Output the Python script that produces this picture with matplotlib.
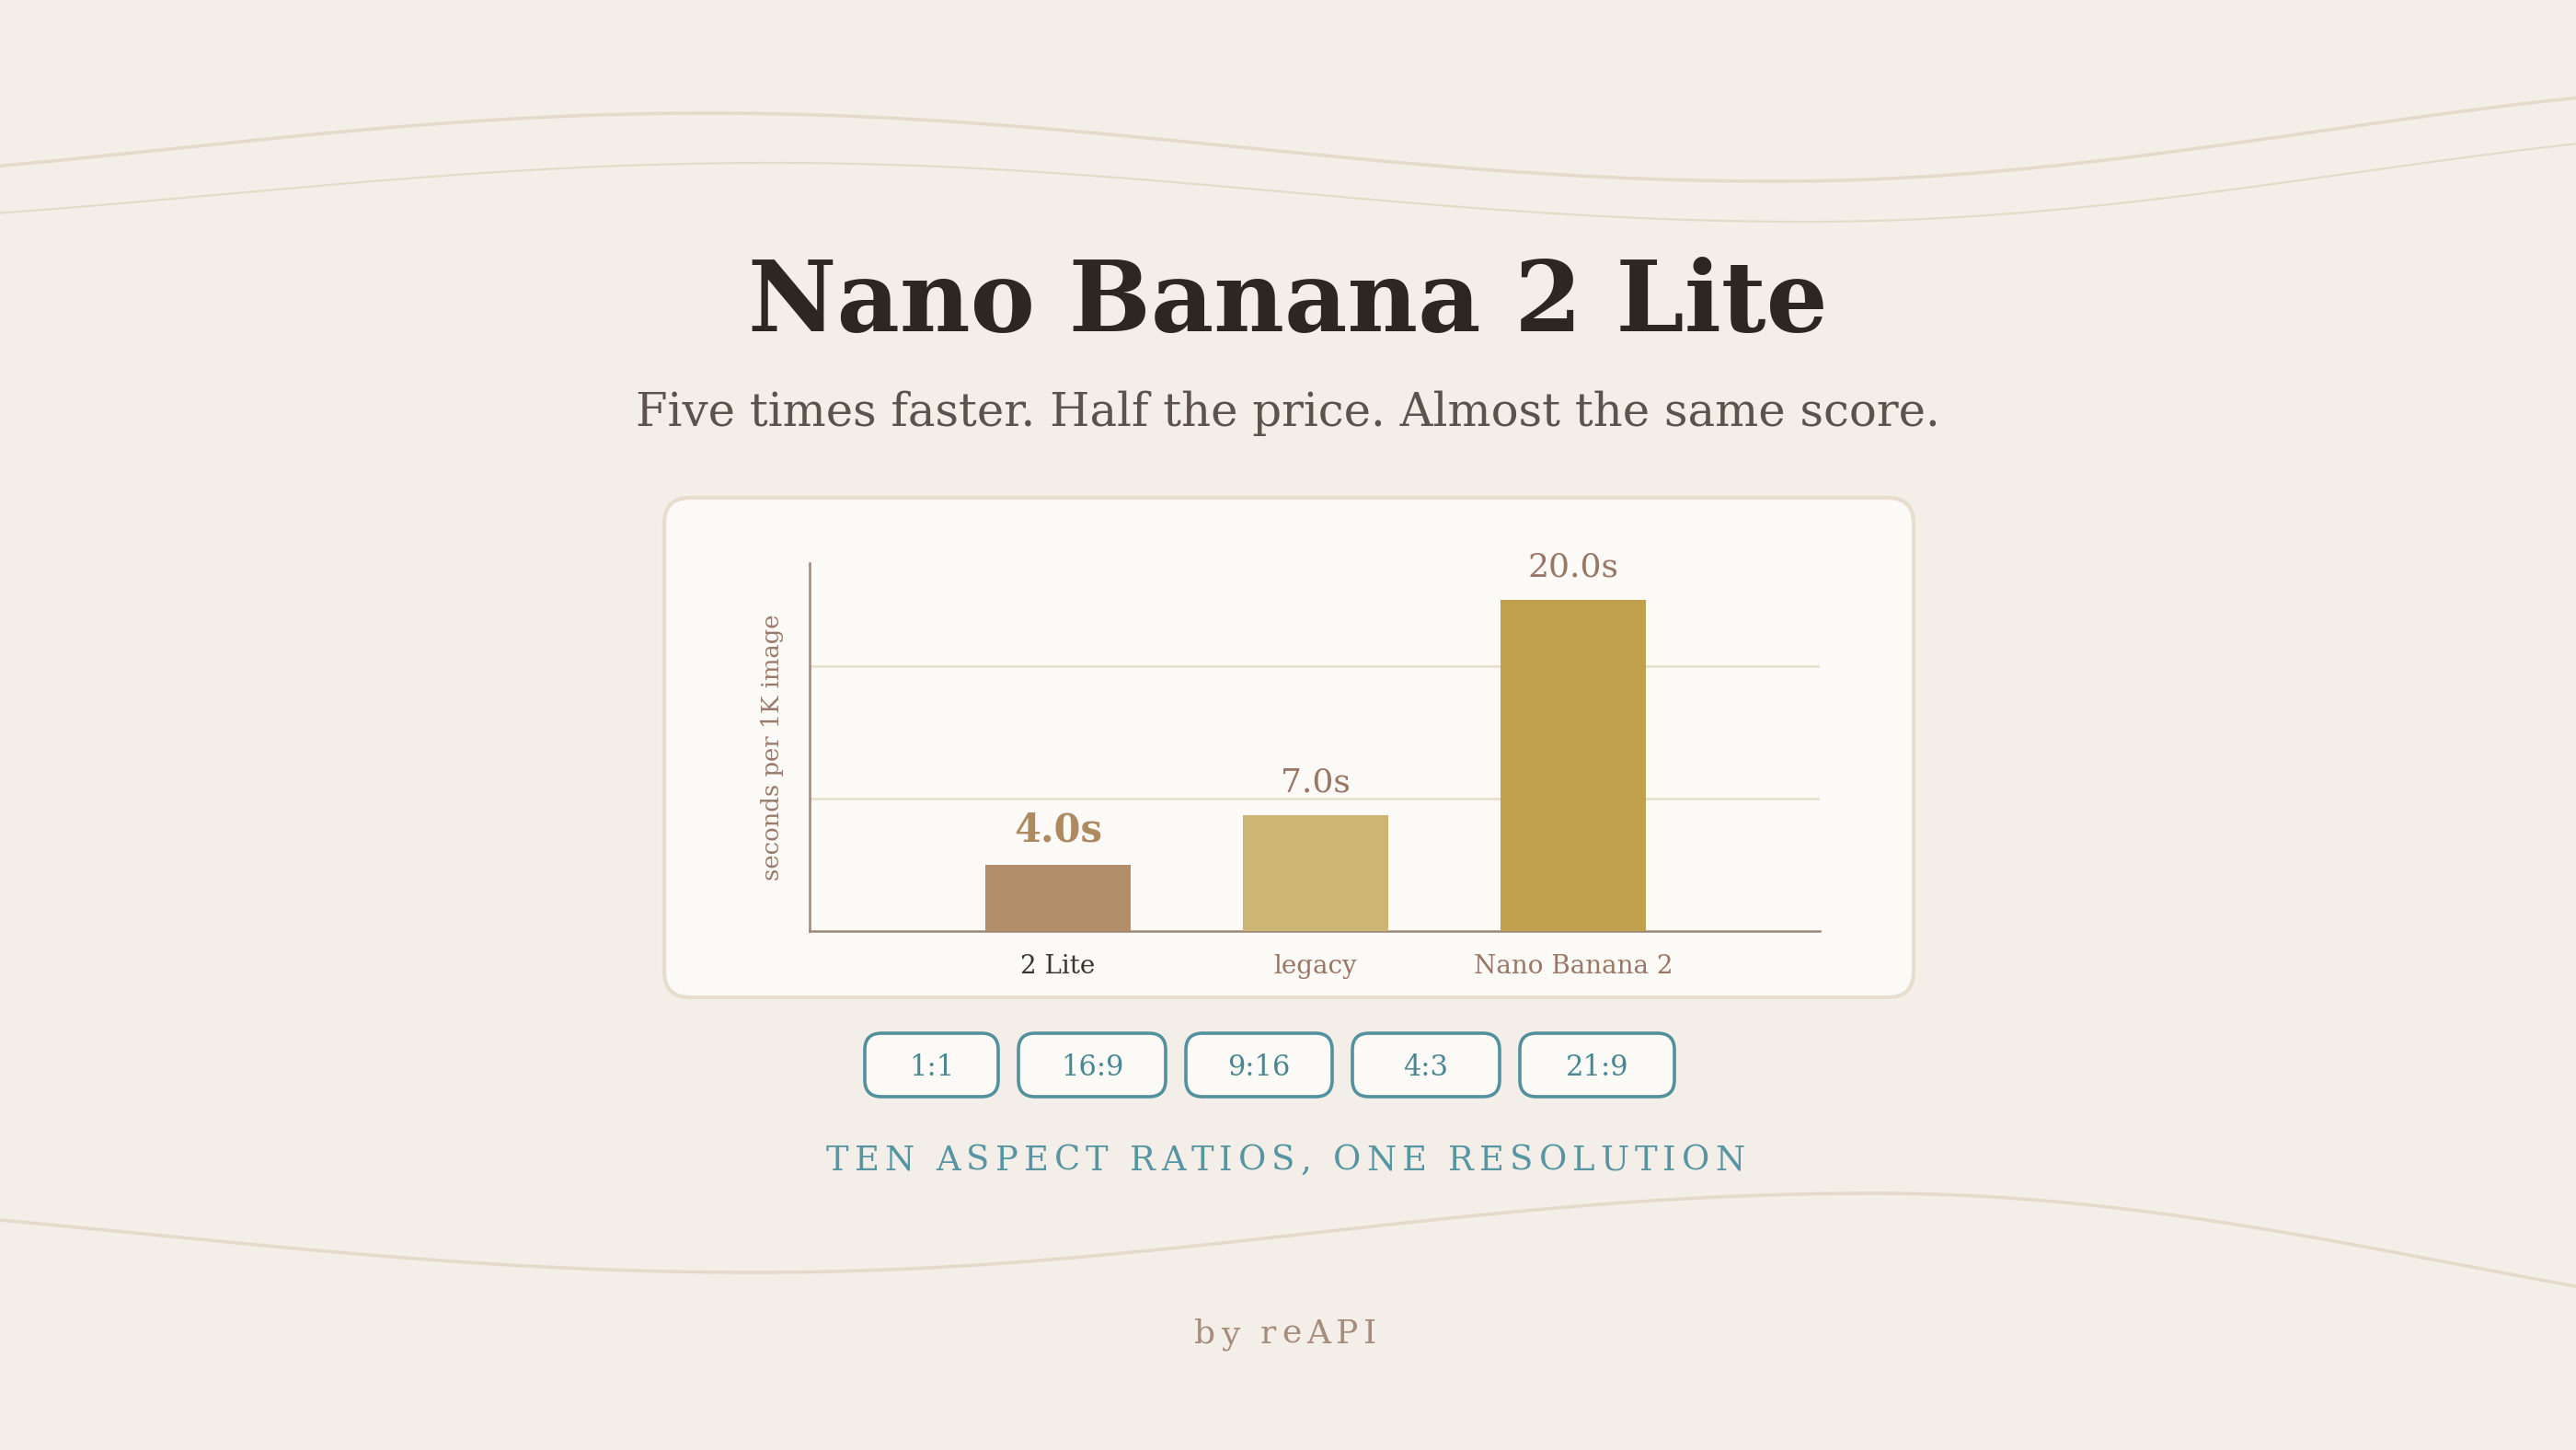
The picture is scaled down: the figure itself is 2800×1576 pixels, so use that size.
import matplotlib.pyplot as plt
import numpy as np
from matplotlib.patches import FancyBboxPatch

# Datos del gráfico
models = ['2 Lite', 'legacy', 'Nano Banana 2']
seconds = [4.0, 7.0, 20.0]
bar_colors = ['#b38e6a', '#cdb574', '#c0a04c']
tick_colors = ['#3b342f', '#9b7565', '#9b7565']
grid_values = [8, 16]
ratios = ['1:1', '16:9', '9:16', '4:3', '21:9']

title = 'Nano Banana 2 Lite'
subtitle = 'Five times faster. Half the price. Almost the same score.'
caption = 'TEN ASPECT RATIOS, ONE RESOLUTION'
footer = 'by reAPI'

W, H = 2800, 1576
BG = '#f3efe8'
TEAL = '#53919e'
SERIF = 'DejaVu Serif'

plt.rcParams['font.family'] = SERIF
fig = plt.figure(figsize=(W / 200, H / 200), dpi=200, facecolor=BG)

# Capa de fondo en coordenadas de píxel
bg = fig.add_axes([0, 0, 1, 1], zorder=0)
bg.set_xlim(0, W)
bg.set_ylim(H, 0)
bg.axis('off')
bg.set_facecolor(BG)


def wave(extrema, lw):
    # curva suave entre extremos (decoración)
    xs, ys = [], []
    for (x0, y0), (x1, y1) in zip(extrema[:-1], extrema[1:]):
        t = np.linspace(0, 1, 80)
        xs.append(x0 + (x1 - x0) * t)
        ys.append(y0 + (y1 - y0) * (1 - np.cos(np.pi * t)) / 2)
    bg.plot(np.concatenate(xs), np.concatenate(ys), color='#e4dac9', lw=lw,
            solid_capstyle='round', zorder=1)


wave([(-390, 200), (768, 123), (1929, 197), (3100, 90)], 1.3)
wave([(-350, 245), (839, 177), (1964, 241), (3150, 135)], 0.8)
wave([(-500, 1300), (821, 1383), (2036, 1297), (3300, 1450)], 1.3)

# Tarjeta del gráfico
card = FancyBboxPatch((722, 541), 1358, 543, boxstyle='round,pad=0,rounding_size=28',
                      fc='#fbfaf7', ec='#e6ddcf', lw=1.5, zorder=2)
bg.add_patch(card)

# Títulos
bg.text(1400, 360, title, ha='center', va='baseline', fontsize=38,
        fontweight='bold', color='#2c2723', zorder=3)
bg.text(1400, 463, subtitle, ha='center', va='baseline', fontsize=17.9,
        color='#5b534c', zorder=3)

renderer = fig.canvas.get_renderer()


def text_width(s, **kw):
    t = bg.text(0, 0, s, **kw)
    w = t.get_window_extent(renderer).width
    t.remove()
    return w


def spaced(xc, y, s, total_w, **kw):
    base = text_width('||', **kw)
    ws = [text_width('|' + c + '|', **kw) - base for c in s]
    track = (total_w - sum(ws)) / (len(s) - 1)
    x = xc - total_w / 2
    for c, cw in zip(s, ws):
        bg.text(x, y, c, ha='left', va='baseline', zorder=3, **kw)
        x += cw + track


# Botones de relación de aspecto
btn_w = [145, 160, 159, 160, 168]
gap = 22
row_w = sum(btn_w) + gap * (len(btn_w) - 1)
x = 1380 - row_w / 2
for lab, bw in zip(ratios, btn_w):
    bg.add_patch(FancyBboxPatch((x, 1123), bw, 69, boxstyle='round,pad=0,rounding_size=18',
                                fc='#fbfaf7', ec=TEAL, lw=1.3, zorder=3))
    bg.text(x + bw / 2, 1169, lab, ha='center', va='baseline', fontsize=11,
            color='#4a8793', zorder=4)
    x += bw + gap

spaced(1397, 1272, caption, 998, fontsize=13.3, color='#5895a2')
spaced(1397, 1460, footer, 198, fontsize=13, color='#a58c7c')

# Gráfico de barras
ax = fig.add_axes([880 / W, 1 - 1012 / H, 1098 / W, 400 / H], zorder=5)
ax.set_facecolor('none')
pos = np.arange(len(models))
ax.bar(pos, seconds, width=0.565, color=bar_colors, zorder=3)
for v in grid_values:
    ax.axhline(v, color='#e7ddcf', lw=0.9, zorder=1)
ax.set_xlim(-0.964, 2.957)
ax.set_ylim(0, 22.2)
ax.set_yticks([])
ax.set_xticks(pos)
ax.set_xticklabels(models, fontsize=10)
for lbl, c in zip(ax.get_xticklabels(), tick_colors):
    lbl.set_color(c)
ax.tick_params(axis='x', length=0, pad=9)
for s in ['top', 'right']:
    ax.spines[s].set_visible(False)
for s in ['left', 'bottom']:
    ax.spines[s].set_color('#9c887b')
    ax.spines[s].set_linewidth(0.9)

for i, v in enumerate(seconds):
    if i == 0:
        kw = dict(fontsize=15, fontweight='bold', color='#ad8a5f')
    else:
        kw = dict(fontsize=13, color='#9a7666')
    ax.annotate(f'{v:.1f}s', (pos[i], v), xytext=(0, 9), textcoords='offset points',
                ha='center', va='baseline', **kw)

ax.text(-0.0373, 0.5, 'seconds per 1K image', transform=ax.transAxes, rotation=90,
        ha='center', va='center', fontsize=9.3, color='#9a7b6b')

plt.savefig('out.png', dpi=200, facecolor=BG)
plt.close()
